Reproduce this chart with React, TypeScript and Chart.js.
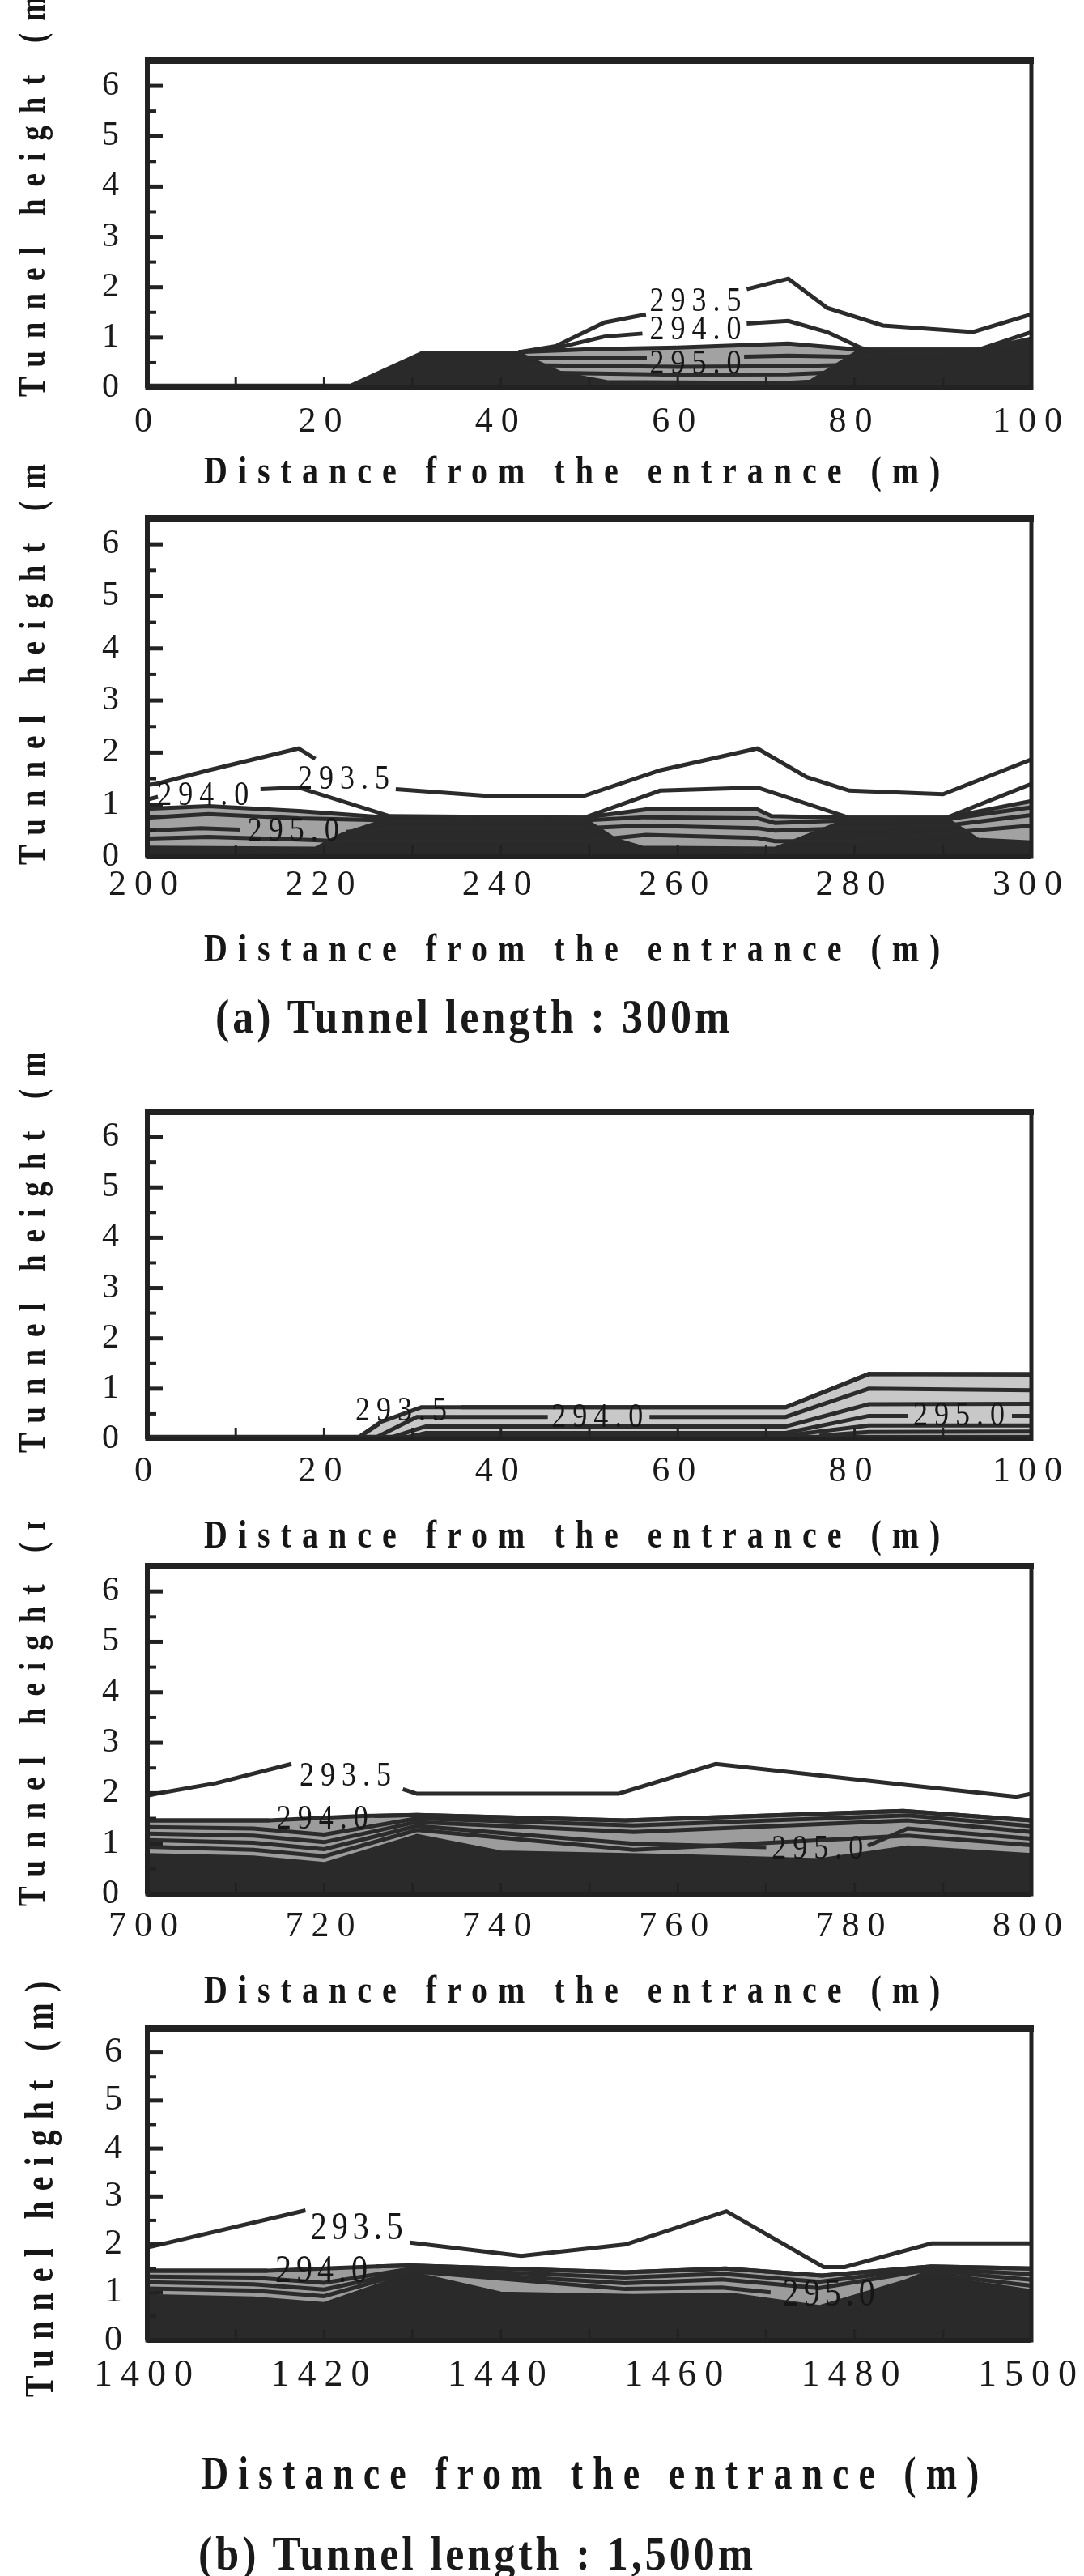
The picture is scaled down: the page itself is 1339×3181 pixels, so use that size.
import React, { useEffect, useRef } from "react";
import { Chart, registerables } from "chart.js";
Chart.register(...registerables);

type P = [number, number] | null;

// ---------- shared ticks ----------
const yTicks = [0, 1, 2, 3, 4, 5, 6];
const p1XTicks = [0, 20, 40, 60, 80, 100];
const p2XTicks = [200, 220, 240, 260, 280, 300];
const p3XTicks = [0, 20, 40, 60, 80, 100];
const p4XTicks = [700, 720, 740, 760, 780, 800];
const p5XTicks = [1400, 1420, 1440, 1460, 1480, 1500];

// ---------- panel 1 : 300 m tunnel, 0-100 m ----------
const p1Dense: P[] = [[0, 0.07], [23, 0.07], [31, 0.71], [42, 0.71], [47, 0.3], [52, 0.14], [72, 0.12], [75, 0.15], [80.5, 0.76], [94, 0.76], [100, 0.86]];
const p1Band: P[] = [[42, 0.71], [50, 0.77], [60, 0.8], [72.5, 0.88], [80.5, 0.76], [94, 0.76], [100, 0.98]];
const p1Iso2935: P[] = [[42, 0.71], [46.2, 0.83], [51.7, 1.3], [56.4, 1.46], null, [67.8, 1.96], [72.5, 2.17], [76.9, 1.59], [83.2, 1.24], [93.4, 1.11], [100, 1.46]];
const p1Iso2940: P[] = [[42, 0.71], [46, 0.78], [51.7, 1.02], [56, 1.08], null, [67.8, 1.28], [72.5, 1.33], [76.9, 1.11], [80.8, 0.79], [81.5, 0.76], [94, 0.76], [100, 1.11]];
const p1Iso2950: P[] = [[42, 0.6], [50, 0.6], [56.5, 0.6], null, [67.5, 0.62], [72.5, 0.64], [79, 0.62], [94.5, 0.76], [100, 0.9]];
const p1IsoA: P[] = [[43, 0.45], [60, 0.42], [72.5, 0.43], [78, 0.45]];
const p1IsoB: P[] = [[45, 0.3], [60, 0.26], [72.5, 0.27], [77, 0.3]];
const p1Labels: [string, number, number][] = [["293.5", 62, 1.71], ["294.0", 62, 1.14], ["295.0", 62, 0.48]];

// ---------- panel 2 : 300 m tunnel, 200-300 m ----------
const p2Dense: P[] = [[200, 0.2], [219, 0.18], [222, 0.45], [227.4, 0.75], [249.4, 0.75], [253, 0.35], [256, 0.2], [271, 0.18], [275, 0.45], [279.4, 0.75], [290.4, 0.75], [294, 0.35], [300, 0.3]];
const p2Band: P[] = [[200, 0.92], [206.9, 0.97], [217.1, 0.88], [227.4, 0.75], [249.4, 0.75], [256.4, 0.91], [269, 0.91], [270.6, 0.78], [279.4, 0.75], [290.4, 0.75], [300, 1.07]];
const p2Iso2935: P[] = [[200, 1.38], [201, 1.4], [206.9, 1.66], [217.1, 2.08], [219, 1.88], null, [228.1, 1.3], [238.4, 1.17], [249.4, 1.17], [258, 1.66], [269, 2.08], [274.6, 1.53], [279.4, 1.27], [290, 1.2], [300, 1.87]];
const p2Iso2940: P[] = [[200, 1.1], [201.2, 1.15], null, [212.8, 1.3], [217.1, 1.33], [227.4, 0.78], [249.4, 0.75], [258, 1.27], [269, 1.33], [279.4, 0.75], [290.4, 0.75], [300, 1.4]];
const p2IsoA: P[] = [[200, 0.75], [206.9, 0.82], [217.1, 0.74], [227.4, 0.7], [249.4, 0.7], [256.4, 0.76], [269, 0.74], [271, 0.65], [279.4, 0.7], [290.4, 0.72], [300, 0.95]];
const p2Iso2950: P[] = [[200, 0.5], [206, 0.55], [210.5, 0.52], null, [222.5, 0.48], [227.4, 0.55], [249.4, 0.55], [256, 0.6], [269, 0.55], [271, 0.5], [279.4, 0.55], [290.4, 0.6], [300, 0.8]];
const p2IsoB: P[] = [[200, 0.35], [206.9, 0.38], [217.1, 0.33], [222, 0.3], [249.4, 0.3], [256.4, 0.42], [269, 0.36], [271, 0.3], [279.4, 0.3], [300, 0.6]];
const p2Labels: [string, number, number][] = [["293.5", 222.2, 1.49], ["294.0", 206.3, 1.17], ["295.0", 216.5, 0.49]];

// ---------- panel 3 : 1,500 m tunnel, 0-100 m ----------
const p3Dense: P[] = [[0, 0.07], [100, 0.07]];
const p3Band: P[] = [[23.6, 0], [26.4, 0.34], [31, 0.63], [72.2, 0.63], [81.6, 1.29], [100, 1.29]];
const p3Iso2935: P[] = [[23.6, 0], [26.2, 0.3], null, [35.5, 0.63], [72.2, 0.63], [81.6, 1.29], [100, 1.28]];
const p3Iso2940: P[] = [[25.5, 0], [30.5, 0.44], [45.3, 0.44], null, [56.8, 0.44], [72.2, 0.44], [81.6, 1.0], [100, 0.97]];
const p3IsoA: P[] = [[27, 0], [31.5, 0.25], [72.2, 0.25], [81.6, 0.69], [100, 0.7]];
const p3Iso2950: P[] = [[28.5, 0], [31.5, 0.12], [72.2, 0.12], [81.6, 0.46], [86, 0.46], null, [97.8, 0.46], [100, 0.46]];
const p3IsoB: P[] = [[60, 0.07], [72.2, 0.07], [81.6, 0.27], [100, 0.27]];
const p3IsoC: P[] = [[76, 0.07], [81.6, 0.14], [100, 0.15]];
const p3Labels: [string, number, number][] = [["293.5", 28.7, 0.55], ["294.0", 50.9, 0.42], ["295.0", 91.8, 0.45]];

// ---------- panel 4 : 1,500 m tunnel, 700-800 m ----------
const p4Dense: P[] = [[700, 0.8], [712, 0.75], [720, 0.62], [730.5, 1.18], [740, 0.85], [760, 0.78], [776, 0.7], [786, 0.95], [800, 0.8]];
const p4Band: P[] = [[700, 1.46], [713.8, 1.46], [724.3, 1.55], [730.5, 1.57], [754, 1.46], [785.5, 1.65], [800, 1.46]];
const p4Iso2935: P[] = [[700, 1.95], [701, 1.99], [707.8, 2.2], [716.3, 2.58], null, [728.9, 2.08], [730.5, 1.99], [753.3, 1.99], [764.3, 2.58], [785.5, 2.17], [798.3, 1.93], [800, 1.99]];
const p4Iso2940: P[] = [[700, 1.46], [713.8, 1.46], null, [725.7, 1.55], [730.5, 1.57], [754, 1.46], [785.5, 1.65], [800, 1.46]];
const p4IsoA: P[] = [[700, 1.33], [712, 1.3], [720, 1.18], [730.5, 1.5], [755, 1.36], [786, 1.56], [800, 1.35]];
const p4IsoB: P[] = [[700, 1.2], [712, 1.16], [720, 1.03], [730.5, 1.43], [755, 1.23], [786, 1.46], [800, 1.23]];
const p4Iso2950: P[] = [[700, 1.07], [712, 1.02], [720, 0.89], [730.5, 1.35], [755, 1.0], [770, 0.93], null, [781.5, 0.96], [786, 1.3], [800, 1.1]];
const p4IsoC: P[] = [[700, 0.94], [712, 0.88], [720, 0.75], [730.5, 1.27], [755, 0.88], [786, 1.16], [800, 0.97]];
const p4Labels: [string, number, number][] = [["293.5", 722.4, 2.33], ["294.0", 719.8, 1.49], ["295.0", 775.8, 0.89]];

// ---------- panel 5 : 1,500 m tunnel, 1400-1500 m ----------
const p5Dense: P[] = [[1400, 0.95], [1412, 0.9], [1420, 0.78], [1430, 1.42], [1440, 1.0], [1455, 0.95], [1466, 0.98], [1476, 0.72], [1488, 1.38], [1500, 1.05]];
const p5Band: P[] = [[1400, 1.45], [1413.6, 1.45], [1425.9, 1.54], [1429.7, 1.56], [1454, 1.42], [1465.4, 1.5], [1476.3, 1.35], [1488.7, 1.54], [1500, 1.5]];
const p5Iso2935: P[] = [[1400, 1.94], [1400.6, 1.96], [1417.9, 2.71], null, [1429.7, 2.04], [1442.3, 1.76], [1454.1, 2.0], [1465.5, 2.69], [1476.5, 1.53], [1478.9, 1.53], [1488.7, 2.02], [1500, 2.02]];
const p5Iso2940: P[] = [[1400, 1.45], [1413.6, 1.45], null, [1425.9, 1.54], [1429.7, 1.56], [1454, 1.42], [1465.4, 1.5], [1476.3, 1.35], [1488.7, 1.54], [1500, 1.5]];
const p5IsoA: P[] = [[1400, 1.33], [1412, 1.31], [1420, 1.2], [1430, 1.5], [1454, 1.31], [1465, 1.39], [1476, 1.22], [1488, 1.5], [1500, 1.38]];
const p5IsoB: P[] = [[1400, 1.21], [1412, 1.17], [1420, 1.06], [1430, 1.46], [1454, 1.19], [1465, 1.27], [1476, 1.09], [1488, 1.46], [1500, 1.26]];
const p5Iso2950: P[] = [[1400, 1.08], [1412, 1.04], [1420, 0.92], [1430, 1.44], [1454, 1.07], [1465, 1.1], [1470.5, 1.0], null, [1483.5, 1.05], [1488, 1.4], [1500, 1.14]];
const p5Labels: [string, number, number][] = [["293.5", 1423.6, 2.32], ["294.0", 1419.6, 1.43], ["295.0", 1477, 0.94]];

// ---------- layout (page geometry, not data) ----------
interface Panel {
  top: number; height: number; frameTop: number; frameBottom: number;
  xMin: number; xMax: number; xTicks: number[];
  dense: P[]; band: P[]; bandColor: string; iso: P[][];
  labels: [string, number, number][];
  xTitleY: number; xTitleX: number; yTitleBottom: number; yTitleX: number;
  big: boolean; xTickPad: number;
}

const PANELS: Panel[] = [
  { top: 0, height: 625, frameTop: 75, frameBottom: 479, xMin: 0, xMax: 100, xTicks: p1XTicks,
    dense: p1Dense, band: p1Band, bandColor: "#a2a2a2", iso: [p1Iso2935, p1Iso2940, p1Iso2950, p1IsoA, p1IsoB],
    labels: p1Labels, xTitleY: 584, xTitleX: 252, yTitleBottom: 490, yTitleX: 43, big: false, xTickPad: 8 },
  { top: 560, height: 655, frameTop: 640, frameBottom: 1058, xMin: 200, xMax: 300, xTicks: p2XTicks,
    dense: p2Dense, band: p2Band, bandColor: "#a2a2a2", iso: [p2Iso2935, p2Iso2940, p2IsoA, p2Iso2950, p2IsoB],
    labels: p2Labels, xTitleY: 1174, xTitleX: 252, yTitleBottom: 1068, yTitleX: 43, big: false, xTickPad: 1 },
  { top: 1300, height: 635, frameTop: 1373, frameBottom: 1777, xMin: 0, xMax: 100, xTicks: p3XTicks,
    dense: p3Dense, band: p3Band, bandColor: "#c8c8c8", iso: [p3Iso2935, p3Iso2940, p3IsoA, p3Iso2950, p3IsoB, p3IsoC],
    labels: p3Labels, xTitleY: 1898, xTitleX: 252, yTitleBottom: 1794, yTitleX: 43, big: false, xTickPad: 6 },
  { top: 1880, height: 610, frameTop: 1934, frameBottom: 2339, xMin: 700, xMax: 800, xTicks: p4XTicks,
    dense: p4Dense, band: p4Band, bandColor: "#9c9c9c", iso: [p4Iso2935, p4Iso2940, p4IsoA, p4IsoB, p4Iso2950, p4IsoC],
    labels: p4Labels, xTitleY: 2460, xTitleX: 252, yTitleBottom: 2354, yTitleX: 43, big: false, xTickPad: 6 },
  { top: 2440, height: 660, frameTop: 2505, frameBottom: 2890, xMin: 1400, xMax: 1500, xTicks: p5XTicks,
    dense: p5Dense, band: p5Band, bandColor: "#9c9c9c", iso: [p5Iso2935, p5Iso2940, p5IsoA, p5IsoB, p5Iso2950],
    labels: p5Labels, xTitleY: 3058, xTitleX: 249, yTitleBottom: 2960, yTitleX: 52, big: true, xTickPad: 8 },
];

const W = 1339;
const FRAME_L = 182;
const FRAME_R = 1274;
const Y_AXIS_W = 100;
const X_AXIS_H = 100;
const LINE = "#2b2b2b";
const DENSE = "#2a2a2a";
const FONT = '"Liberation Serif", "Times New Roman", serif';
const TICK_LS = 10;

function toXY(list: P[]) {
  const out: { x: number; y: number | null }[] = [];
  let lx = 0;
  for (const p of list) {
    if (p === null) out.push({ x: lx, y: null });
    else { out.push({ x: p[0], y: p[1] }); lx = p[0]; }
  }
  return out;
}

function stretchText(ctx: any, text: string, x: number, y: number, sy: number) {
  ctx.save();
  ctx.translate(x, y);
  ctx.scale(1, sy);
  ctx.fillText(text, 0, 0);
  ctx.restore();
}

function makeDecor(p: Panel) {
  return {
    id: "decor",
    beforeDraw(chart: any) {
      chart.ctx.letterSpacing = TICK_LS + "px";
    },
    afterDraw(chart: any) {
      const ctx = chart.ctx as any;
      const a = chart.chartArea;
      const xs = chart.scales.x;
      const ys = chart.scales.y;
      ctx.save();
      ctx.letterSpacing = "0px";
      ctx.strokeStyle = "#222222";
      ctx.lineCap = "butt";
      // frame
      ctx.lineWidth = 5;
      ctx.strokeRect(a.left, a.top, a.right - a.left, a.bottom - a.top);
      ctx.lineWidth = 8;
      ctx.beginPath(); ctx.moveTo(a.left - 3, a.top); ctx.lineTo(a.right + 3, a.top); ctx.stroke();
      ctx.lineWidth = 6;
      ctx.beginPath(); ctx.moveTo(a.left, a.top); ctx.lineTo(a.left, a.bottom); ctx.stroke();
      ctx.beginPath(); ctx.moveTo(a.left, a.bottom); ctx.lineTo(a.right, a.bottom); ctx.stroke();
      // inward y ticks (major + minor)
      for (let v = 0; v <= 6; v += 0.5) {
        const py = ys.getPixelForValue(v);
        const major = Math.abs(v - Math.round(v)) < 1e-6;
        ctx.lineWidth = major ? 5 : 4;
        ctx.beginPath(); ctx.moveTo(a.left, py); ctx.lineTo(a.left + (major ? 19 : 11), py); ctx.stroke();
      }
      // inward x ticks
      ctx.lineWidth = 3;
      for (let v = p.xMin + 10; v < p.xMax; v += 10) {
        const px = xs.getPixelForValue(v);
        ctx.beginPath(); ctx.moveTo(px, a.bottom); ctx.lineTo(px, a.bottom - 14); ctx.stroke();
      }
      // contour labels
      ctx.fillStyle = "#161616";
      ctx.textAlign = "center";
      ctx.textBaseline = "middle";
      ctx.font = (p.big ? "40px " : "36px ") + FONT;
      ctx.letterSpacing = p.big ? "6px" : "8px";
      for (const [t, x, y] of p.labels) {
        stretchText(ctx, t, xs.getPixelForValue(x) + 4, ys.getPixelForValue(y), 1.2);
      }
      // x title
      ctx.textAlign = "left";
      ctx.textBaseline = "middle";
      ctx.font = "bold " + (p.big ? 46 : 40) + "px " + FONT;
      ctx.letterSpacing = p.big ? "12px" : "13px";
      stretchText(ctx, "Distance from the entrance (m)", p.xTitleX, p.xTitleY - p.top, 1.22);
      // y title (rotated)
      ctx.translate(p.yTitleX, p.yTitleBottom - p.top);
      ctx.rotate(-Math.PI / 2);
      ctx.textAlign = "left";
      ctx.textBaseline = "middle";
      ctx.font = "bold " + (p.big ? 40 : 37) + "px " + FONT;
      ctx.letterSpacing = p.big ? "13px" : "15px";
      stretchText(ctx, "Tunnel height (m)", 0, 0, 1.25);
      ctx.restore();
      ctx.letterSpacing = "0px";
    },
  };
}

function buildConfig(p: Panel): any {
  const lineSets = p.iso.map((l) => ({
    data: toXY(l), borderColor: LINE, borderWidth: 5, pointRadius: 0, fill: false, order: 1, spanGaps: false,
  }));
  const tickFont = { family: FONT, size: p.big ? 46 : 44 };
  return {
    type: "line",
    data: {
      datasets: [
        ...lineSets,
        { data: toXY(p.dense), borderColor: DENSE, borderWidth: 2, backgroundColor: DENSE, fill: "origin", pointRadius: 0, order: 5 },
        { data: toXY(p.band), borderColor: LINE, borderWidth: 5, backgroundColor: p.bandColor, fill: "origin", pointRadius: 0, order: 10 },
      ],
    },
    options: {
      responsive: false,
      animation: false,
      devicePixelRatio: 1,
      events: [],
      layout: {
        padding: {
          left: FRAME_L - Y_AXIS_W,
          right: W - FRAME_R,
          top: p.frameTop - p.top,
          bottom: p.height - (p.frameBottom - p.top) - X_AXIS_H,
        },
      },
      plugins: { legend: { display: false }, tooltip: { enabled: false }, title: { display: false } },
      scales: {
        x: {
          type: "linear", min: p.xMin, max: p.xMax,
          grid: { display: false }, border: { display: false },
          afterBuildTicks: (s: any) => { s.ticks = p.xTicks.map((v) => ({ value: v })); },
          afterFit: (s: any) => { s.height = X_AXIS_H; },
          ticks: { autoSkip: false, maxRotation: 0, minRotation: 0, padding: p.xTickPad, color: "#1a1a1a", font: tickFont, callback: (v: any) => String(v) },
        },
        y: {
          type: "linear", min: 0, max: 6.5,
          grid: { display: false }, border: { display: false },
          afterBuildTicks: (s: any) => { s.ticks = yTicks.map((v) => ({ value: v })); },
          afterFit: (s: any) => { s.width = Y_AXIS_W; },
          ticks: { autoSkip: false, padding: p.big ? 13 : 17, color: "#1a1a1a", font: { family: FONT, size: p.big ? 44 : 42 }, callback: (v: any) => String(v) },
        },
      },
    },
    plugins: [makeDecor(p)],
  };
}

function PanelChart({ p }: { p: Panel }) {
  const ref = useRef<HTMLCanvasElement>(null);
  useEffect(() => {
    if (!ref.current) return;
    const chart = new Chart(ref.current, buildConfig(p));
    return () => chart.destroy();
  }, [p]);
  return (
    <canvas
      ref={ref}
      width={W}
      height={p.height}
      style={{ position: "absolute", left: 0, top: p.top, width: W, height: p.height }}
    />
  );
}

function captionStyle(left: number, cy: number): React.CSSProperties {
  return {
    position: "absolute", left, top: cy - 28, height: 56, lineHeight: "56px",
    fontFamily: FONT, fontWeight: "bold", fontSize: 52, letterSpacing: "4px",
    whiteSpace: "nowrap", color: "#1a1a1a",
    transform: "scaleY(1.12)", transformOrigin: "left center",
  };
}

export default function App() {
  return (
    <div style={{ position: "absolute", left: 0, top: 0, width: W, height: 3181, background: "#ffffff", overflow: "hidden" }}>
      {PANELS.map((p, i) => <PanelChart key={i} p={p} />)}
      <div style={captionStyle(266, 1256)}>(a) Tunnel length : 300m</div>
      <div style={captionStyle(245, 3154)}>(b) Tunnel length : 1,500m</div>
    </div>
  );
}
